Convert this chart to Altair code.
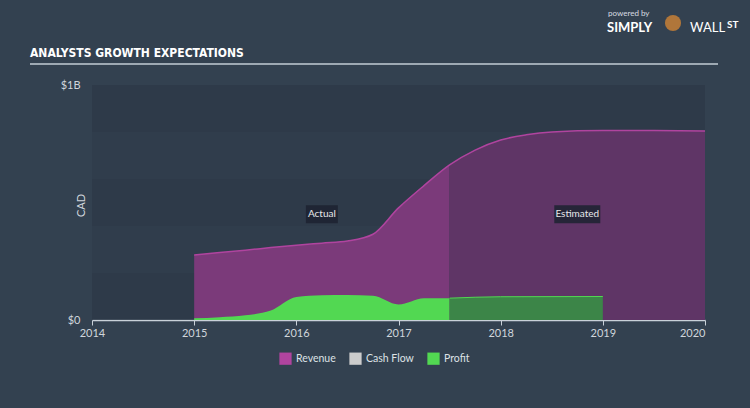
import altair as alt
import pandas as pd

# ---- data ----
rev_act_years = [2015.0, 2015.25, 2015.5, 2015.75, 2016.0, 2016.25, 2016.5, 2016.75, 2017.0, 2017.25, 2017.5]
rev_act_vals = [0.277, 0.287, 0.297, 0.308, 0.318, 0.327, 0.336, 0.365, 0.477, 0.572, 0.660]
rev_est_years = [2017.5, 2017.75, 2018.0, 2018.25, 2018.5, 2019.0, 2019.5, 2020.0]
rev_est_vals = [0.660, 0.723, 0.766, 0.788, 0.800, 0.806, 0.806, 0.804]
prof_act_years = [2015.0, 2015.25, 2015.5, 2015.75, 2016.0, 2016.25, 2016.5, 2016.75, 2017.0, 2017.25, 2017.5]
prof_act_vals = [0.007, 0.012, 0.020, 0.040, 0.098, 0.105, 0.106, 0.103, 0.066, 0.093, 0.093]
prof_est_years = [2017.5, 2018.0, 2019.0]
prof_est_vals = [0.093, 0.099, 0.100]
legend_names = ["Revenue", "Cash Flow", "Profit"]
legend_colors = ["#b0449f", "#cccccc", "#52d852"]
year_ticks = [2014, 2015, 2016, 2017, 2018, 2019, 2020]

B = 1e9
rev_act = pd.DataFrame({"year": rev_act_years, "value": [v * B for v in rev_act_vals]})
rev_est = pd.DataFrame({"year": rev_est_years, "value": [v * B for v in rev_est_vals]})
prof_act = pd.DataFrame({"year": prof_act_years, "value": [v * B for v in prof_act_vals]})
prof_est = pd.DataFrame({"year": prof_est_years, "value": [v * B for v in prof_est_vals]})

FONT = "Lato"
TITLE_FONT = "'Liberation Sans Narrow', 'DejaVu Sans Condensed', 'Roboto Condensed', 'Arial Narrow', Roboto"
BG = "#334150"

xs = alt.Scale(domain=[2014, 2020], nice=False, zero=False)
ys = alt.Scale(domain=[0, B], nice=False)

xenc = alt.X("year:Q", scale=xs, axis=alt.Axis(
    values=year_ticks, format="d", title=None, grid=False, labelFlush=False,
    labelAlign=alt.ExprRef(expr="datum.value == 2020 ? 'right' : 'center'"),
    domainColor="#c9d1d9", tickColor="#c9d1d9", tickSize=5, domainWidth=1.5,
    labelColor="#d0d6dc", labelFontSize=11, labelFont=FONT, labelPadding=2))
yenc = alt.Y("value:Q", scale=ys, axis=alt.Axis(
    values=[0, B], labelExpr="datum.value == 0 ? '$0' : '$1B'", grid=False,
    domain=False, ticks=False, labelColor="#d0d6dc", labelFontSize=11, labelFont=FONT,
    labelPadding=12, title="CAD", titleColor="#d0d6dc", titleFontSize=11,
    titleFontWeight="normal", titleFont=FONT, titleX=-6, titleY=120))

# background bands
band_lo = [0.0, 0.4, 0.8]
bands = pd.DataFrame({"lo": [v * B for v in band_lo], "hi": [(v + 0.2) * B for v in band_lo]})
band_layer = alt.Chart(bands).mark_rect(color="#2c3846", opacity=0.5).encode(
    x=alt.value(0), x2=alt.value(613),
    y=alt.Y("lo:Q", scale=ys), y2="hi:Q")

# legend-only layer (points of zero size)
leg = pd.DataFrame({"series": legend_names, "year": [2014.0] * 3, "value": [0.0] * 3})
legend_layer = alt.Chart(leg).mark_point(filled=True, size=0, opacity=1).encode(
    x=xenc, y=yenc,
    color=alt.Color("series:N", sort=legend_names,
                    scale=alt.Scale(domain=legend_names, range=legend_colors),
                    legend=alt.Legend(
                        title=None, orient="none", legendX=187, legendY=267, direction="horizontal",
                        symbolType="square", symbolSize=150, symbolStrokeWidth=0, labelColor="#dde2e6",
                        labelFontSize=10.5, labelFont=FONT, columnPadding=13, symbolOpacity=1)))

rev_act_fill = alt.Chart(rev_act).mark_area(interpolate="monotone", color="#7b3a7a").encode(
    x=alt.X("year:Q", scale=xs), y=alt.Y("value:Q", scale=ys))
rev_est_layer = alt.Chart(rev_est).mark_area(interpolate="monotone", color="#5f3566").encode(
    x=alt.X("year:Q", scale=xs), y=alt.Y("value:Q", scale=ys))
rev_line_all = pd.concat([rev_act, rev_est.iloc[1:]])
rev_line = alt.Chart(rev_line_all).mark_line(interpolate="monotone", color="#b0449f", strokeWidth=1.5).encode(
    x=alt.X("year:Q", scale=xs), y=alt.Y("value:Q", scale=ys))

prof_act_layer = alt.Chart(prof_act).mark_area(interpolate="monotone", color="#52d852").encode(
    x=alt.X("year:Q", scale=xs), y=alt.Y("value:Q", scale=ys))
prof_est_layer = alt.Chart(prof_est).mark_area(interpolate="monotone", color="#3c8548").encode(
    x=alt.X("year:Q", scale=xs), y=alt.Y("value:Q", scale=ys))
prof_est_line = alt.Chart(prof_est).mark_line(interpolate="monotone", color="#52d852", strokeWidth=1).encode(
    x=alt.X("year:Q", scale=xs), y=alt.Y("value:Q", scale=ys))

# annotation labels
ann = pd.DataFrame({"year": [2016.25, 2018.75], "value": [0.45 * B, 0.45 * B], "label": ["Actual", "Estimated"]})
ann_box_a = alt.Chart(ann.iloc[[0]]).mark_rect(color="#1c2230", opacity=0.85, xOffset=-16, x2Offset=16, yOffset=-9, y2Offset=9).encode(
    x=alt.X("year:Q", scale=xs), x2="year:Q", y=alt.Y("value:Q", scale=ys), y2="value:Q")
ann_box_e = alt.Chart(ann.iloc[[1]]).mark_rect(color="#1c2230", opacity=0.85, xOffset=-23, x2Offset=23, yOffset=-9, y2Offset=9).encode(
    x=alt.X("year:Q", scale=xs), x2="year:Q", y=alt.Y("value:Q", scale=ys), y2="value:Q")
ann_text = alt.Chart(ann).mark_text(color="#e6e8ea", fontSize=10, font=FONT).encode(
    x=alt.X("year:Q", scale=xs), y=alt.Y("value:Q", scale=ys), text="label:N")

# header decorations
sep = alt.Chart(pd.DataFrame({"a": [0]})).mark_rule(color="#c3ccd5", strokeWidth=1.5).encode(
    x=alt.value(-62), x2=alt.value(626), y=alt.value(-21))
title_t = alt.Chart(pd.DataFrame({"t": ["ANALYSTS GROWTH EXPECTATIONS"]})).mark_text(
    align="left", baseline="alphabetic", color="#ffffff", fontSize=12, fontWeight="bold",
    font=TITLE_FONT).encode(x=alt.value(-62), y=alt.value(-28), text="t:N")
pw = alt.Chart(pd.DataFrame({"t": ["powered by"]})).mark_text(
    align="left", color="#d8dde2", fontSize=8, font=FONT).encode(x=alt.value(516), y=alt.value(-71), text="t:N")
simply = alt.Chart(pd.DataFrame({"t": ["SIMPLY"]})).mark_text(
    align="left", color="#ffffff", fontSize=13, fontWeight="bold", font=FONT).encode(x=alt.value(515), y=alt.value(-57), text="t:N")
wall = alt.Chart(pd.DataFrame({"t": ["WALL"]})).mark_text(
    align="left", color="#ffffff", fontSize=13, font=FONT).encode(x=alt.value(598), y=alt.value(-57), text="t:N")
st = alt.Chart(pd.DataFrame({"t": ["ST"]})).mark_text(
    align="left", color="#ffffff", fontSize=10, fontWeight="bold", font=FONT).encode(x=alt.value(635), y=alt.value(-60), text="t:N")
logo = alt.Chart(pd.DataFrame({"a": [0]})).mark_circle(color="#b0763a", size=260, opacity=1).encode(
    x=alt.value(581), y=alt.value(-62))

chart = alt.layer(
    band_layer, legend_layer, rev_act_fill, rev_est_layer, rev_line,
    prof_act_layer, prof_est_layer, prof_est_line,
    ann_box_a, ann_box_e, ann_text,
    sep, title_t, pw, simply, wall, st, logo,
).properties(
    width=613, height=235, background=BG,
    padding={"left": 92, "top": 85, "right": 45, "bottom": 88},
    autosize=alt.AutoSizeParams(type="none"),
).configure_view(stroke=None, fill="#303d4c")

chart.save("out.html", embed_options={"renderer": "svg", "actions": False})
